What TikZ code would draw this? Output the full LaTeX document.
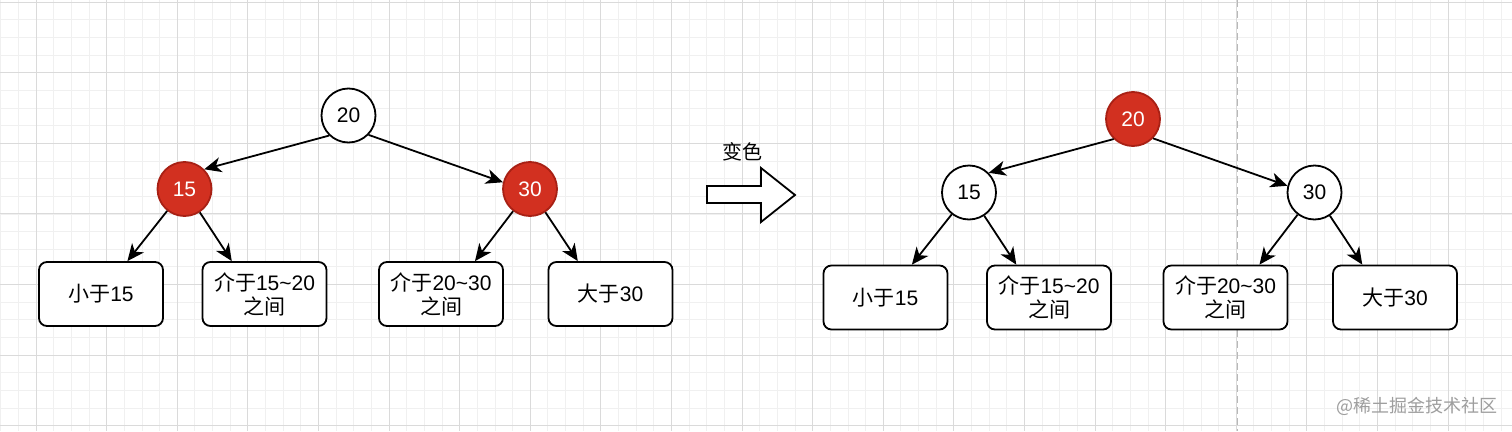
\documentclass[tikz,border=0pt]{standalone}
\usepackage{fontspec}
\setmainfont{Liberation Sans}
\newfontfamily\cjk{Noto Sans CJK SC}
\usetikzlibrary{calc,positioning,arrows.meta}

\definecolor{nodeRed}{RGB}{210,48,32}
\definecolor{nodeRedBorder}{RGB}{168,32,20}
\definecolor{gridMinor}{RGB}{240,240,240}
\definecolor{gridMajor}{RGB}{218,218,218}

\tikzset{
  keyNode/.style={circle,draw=black,line width=1.8pt,fill=white,minimum size=54pt,inner sep=0pt},
  redNode/.style={keyNode,draw=nodeRedBorder,fill=nodeRed,text=white},
  rangeBox/.style={rectangle,rounded corners=8pt,draw=black,line width=1.8pt,fill=white,
    minimum width=124pt,minimum height=64pt,align=center,inner sep=0pt},
  edge/.style={->,line width=1.8pt}
}

\begin{document}
\begin{tikzpicture}[x=1pt,y=-1pt,>={Stealth[length=17pt,width=15pt,inset=5pt]},
    font=\fontsize{21}{24}\selectfont]
    \useasboundingbox (0,0) rectangle (1512,431);
    \fill[white] (0,0) rectangle (1512,431);

    % grid
    \foreach \i in {-2,...,83}
      \draw[gridMinor,line width=0.8pt] ({36+17.65*\i},0) -- ({36+17.65*\i},431);
    \foreach \i in {0,...,24}
      \draw[gridMinor,line width=0.8pt] (0,{2.1+17.65*\i}) -- (1512,{2.1+17.65*\i});
    \foreach \i in {0,...,21}
      \draw[gridMajor,line width=1pt] ({36+70.6*\i},0) -- ({36+70.6*\i},431);
    \foreach \i in {0,...,6}
      \draw[gridMajor,line width=1pt] (0,{2.1+70.6*\i}) -- (1512,{2.1+70.6*\i});
    \draw[black!28,line width=1pt,dash pattern=on 7pt off 4pt] (1237,0) -- (1237,431);

    % before
    \node[keyNode] (leftRootNode) at (348.5,115.5) {20};
    \node[redNode] (leftFifteenNode) at (184.5,189) {15};
    \node[redNode] (leftThirtyNode) at (530,189) {30};

    \node[rangeBox] (leftLessNode) at (101,294) {{\cjk 小于}15};
    \node[rangeBox] (leftLowMidNode) at (264.5,294) {{\cjk 介于}15\textasciitilde20\\{\cjk 之间}};
    \node[rangeBox] (leftHighMidNode) at (441,294) {{\cjk 介于}20\textasciitilde30\\{\cjk 之间}};
    \node[rangeBox] (leftGreaterNode) at (610.5,294) {{\cjk 大于}30};

    \draw[edge] (leftRootNode.226) -- (leftFifteenNode.45);
    \draw[edge] (leftRootNode.316) -- (leftThirtyNode.166);
    \draw[edge] (leftFifteenNode) -- ($(leftLessNode.north west)!0.71!(leftLessNode.north east)$);
    \draw[edge] (leftFifteenNode) -- ($(leftLowMidNode.north west)!0.24!(leftLowMidNode.north east)$);
    \draw[edge] (leftThirtyNode) -- ($(leftHighMidNode.north west)!0.77!(leftHighMidNode.north east)$);
    \draw[edge] (leftThirtyNode) -- ($(leftGreaterNode.north west)!0.24!(leftGreaterNode.north east)$);

    % recolour arrow
    \node[font=\cjk\fontsize{20}{24}\selectfont] (recolorLabel) at (742,152) {变色};
    \draw[line width=1.8pt,fill=white] (707,186) -- (761,186) -- (761,168) -- (795,195)
      -- (761,222) -- (761,203) -- (707,203) -- cycle;

    % after
    \node[redNode] (rightRootNode) at (1133,119) {20};
    \node[keyNode] (rightFifteenNode) at (969,192.5) {15};
    \node[keyNode] (rightThirtyNode) at (1314.5,192.5) {30};

    \node[rangeBox] (rightLessNode) at (885.5,297.5) {{\cjk 小于}15};
    \node[rangeBox] (rightLowMidNode) at (1049,297.5) {{\cjk 介于}15\textasciitilde20\\{\cjk 之间}};
    \node[rangeBox] (rightHighMidNode) at (1225.5,297.5) {{\cjk 介于}20\textasciitilde30\\{\cjk 之间}};
    \node[rangeBox] (rightGreaterNode) at (1395,297.5) {{\cjk 大于}30};

    \draw[edge] (rightRootNode.226) -- (rightFifteenNode.45);
    \draw[edge] (rightRootNode.316) -- (rightThirtyNode.166);
    \draw[edge] (rightFifteenNode) -- ($(rightLessNode.north west)!0.71!(rightLessNode.north east)$);
    \draw[edge] (rightFifteenNode) -- ($(rightLowMidNode.north west)!0.24!(rightLowMidNode.north east)$);
    \draw[edge] (rightThirtyNode) -- ($(rightHighMidNode.north west)!0.77!(rightHighMidNode.north east)$);
    \draw[edge] (rightThirtyNode) -- ($(rightGreaterNode.north west)!0.24!(rightGreaterNode.north east)$);

    \node[text=black!38,font=\cjk\fontsize{18}{20}\selectfont] (watermarkNode) at (1417,406) {@稀土掘金技术社区};
\end{tikzpicture}
\end{document}
